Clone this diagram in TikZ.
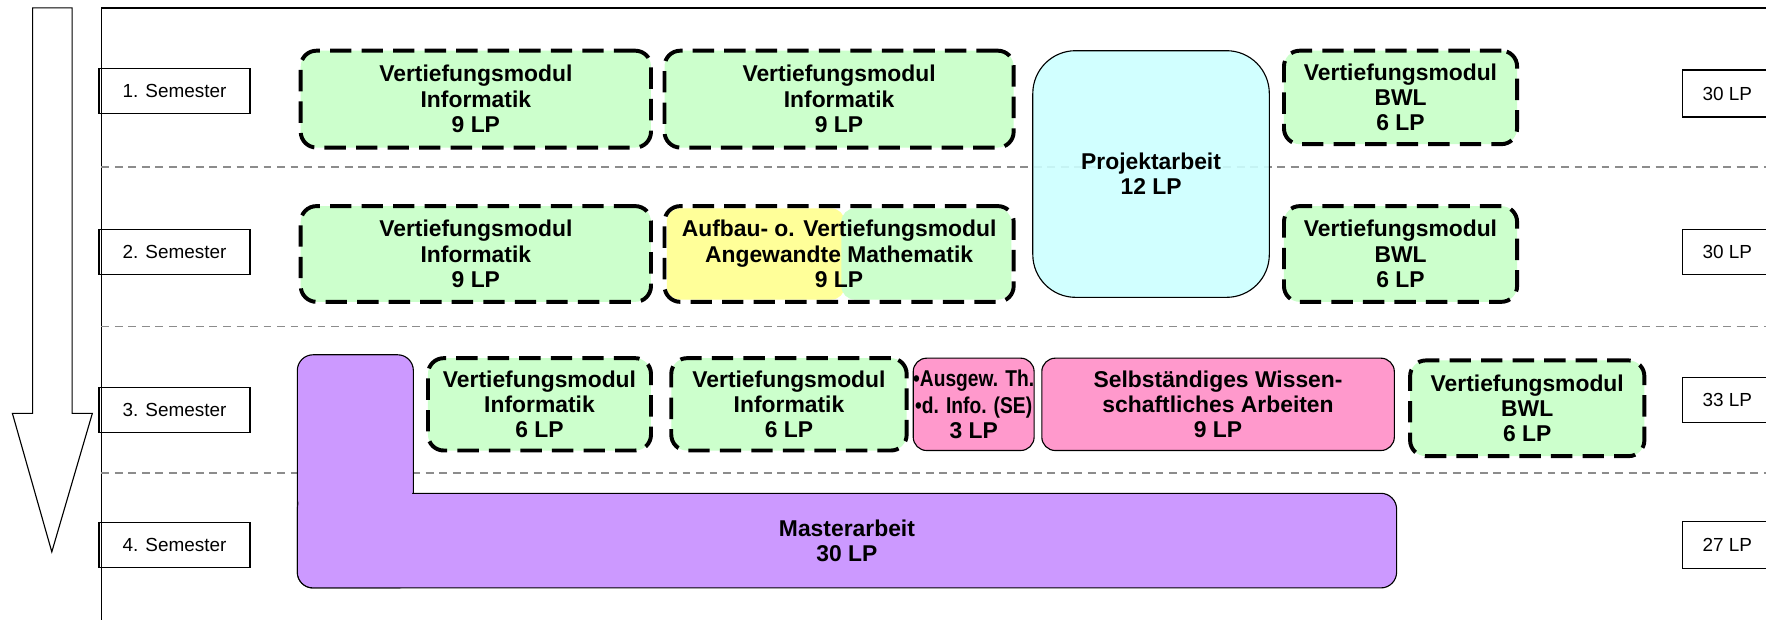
\documentclass[tikz,border=0pt]{standalone}
\usepackage{fontspec}
\setmainfont{Liberation Sans}
\definecolor{vgreen}{HTML}{CCFFCC}
\definecolor{vyellow}{HTML}{FFFF99}
\definecolor{vcyan}{HTML}{CCFFFF}
\definecolor{vpink}{HTML}{FF99CC}
\definecolor{vpurple}{HTML}{CC99FF}
\definecolor{sepgray}{HTML}{8C8C8C}
\begin{document}
\begin{tikzpicture}[x=1pt,y=-1pt,
  boldtxt/.style={font=\bfseries\fontsize{20.3}{22.5}\selectfont},
  vm/.style={draw=black, line width=3.5pt, dash pattern=on 19pt off 9pt,
    rounded corners=14pt, fill=vgreen, align=center, inner sep=0pt, boldtxt},
  solidbox/.style={draw=black, line width=1pt, rounded corners=12pt,
    align=center, inner sep=0pt, boldtxt},
  sem/.style={draw=black, line width=1.2pt, minimum height=40pt, inner sep=0pt,
    font=\fontsize{16.8}{19}\selectfont},
  sep/.style={draw=sepgray, line width=1.5pt, dash pattern=on 7pt off 5pt},
  mst/.style={draw=black, line width=1pt, rounded corners=14pt, fill=vpurple}
]
\fill[white] (0,0) rectangle (1568,550);
\useasboundingbox (0,0) rectangle (1568,550);
\clip (0,0) rectangle (1568,550);

% big arrow
\draw[line width=1pt, fill=white] (29,7) -- (64,7) -- (64,367) -- (82,367)
  -- (46,490) -- (11,367) -- (29,367) -- cycle;

% frame
\draw[line width=1.5pt] (90,560) -- (90,7) -- (1600,7);

% separators
\draw[sep] (90,148) -- (1568,148);
\draw[sep] (90,290) -- (1568,290);
\draw[sep] (90,420) -- (1568,420);

% semester labels
\node[sem, minimum width=134pt] (s1) at (155,81) {1. Semester};
\node[sem, minimum width=134pt] (s2) at (155,224) {2. Semester};
\node[sem, minimum width=134pt] (s3) at (155,364) {3. Semester};
\node[sem, minimum width=134pt] (s4) at (155,484) {4. Semester};

% LP labels
\node[sem, anchor=west, minimum width=80pt, minimum height=42pt] (lp1) at (1493,83) {30 LP};
\node[sem, anchor=west, minimum width=80pt] (lp2) at (1493,224) {30 LP};
\node[sem, anchor=west, minimum width=80pt] (lp3) at (1493,355) {33 LP};
\node[sem, anchor=west, minimum width=80pt, minimum height=42pt] (lp4) at (1493,484) {27 LP};

% row 1
\node[vm, minimum width=311pt, minimum height=86pt] (a1) at (422.5,88)
  {Vertiefungsmodul\\Informatik\\9 LP};
\node[vm, minimum width=310pt, minimum height=86pt] (a2) at (745,88)
  {Vertiefungsmodul\\Informatik\\9 LP};
\node[vm, minimum width=207pt, minimum height=83pt] (bwl1) at (1243.5,86.5)
  {Vertiefungsmodul\\BWL\\6 LP};

% row 2
\node[vm, minimum width=311pt, minimum height=85pt] (b1) at (422.5,225.5)
  {Vertiefungsmodul\\Informatik\\9 LP};
\fill[vyellow, rounded corners=12pt] (592,185) rectangle (750,266);
\fill[vgreen, rounded corners=12pt] (747,185) rectangle (898,266);
\node[vm, fill=none, minimum width=310pt, minimum height=85pt] (b2) at (745,225.5)
  {Aufbau- o. Vertiefungsmodul\\Angewandte Mathematik\\9 LP};
\node[vm, minimum width=207pt, minimum height=85pt] (bwl2) at (1243.5,225.5)
  {Vertiefungsmodul\\BWL\\6 LP};

% Projektarbeit
\node[solidbox, rounded corners=38pt, fill=vcyan, fill opacity=0.9, text opacity=1,
  minimum width=210pt, minimum height=219pt] (proj) at (1022,154.5)
  {Projektarbeit\\12 LP};

% Masterarbeit (L shape)
\draw[mst] (264,315) rectangle (367,522);
\draw[mst] (264,438) rectangle (1240,522);
\fill[vpurple, rounded corners=13pt] (265,316) rectangle (366,521);
\fill[vpurple, rounded corners=13pt] (265,439) rectangle (1239,521);
\node[boldtxt, align=center] (master) at (752,480) {Masterarbeit\\30 LP};

% row 3
\node[vm, minimum width=198pt, minimum height=82pt] (c1) at (479,359)
  {Vertiefungsmodul\\Informatik\\6 LP};
\node[vm, minimum width=209pt, minimum height=82pt] (c2) at (700.5,359)
  {Vertiefungsmodul\\Informatik\\6 LP};
\node[solidbox, fill=vpink, minimum width=103pt, minimum height=82pt] (se) at (864.5,359)
  {\scalebox{0.84}[1]{•Ausgew. Th.}\\[1pt]\scalebox{0.84}[1]{•d. Info. (SE)}\\3 LP};
\node[solidbox, fill=vpink, minimum width=313pt, minimum height=82pt] (swa) at (1081.5,359)
  {Selbständiges Wissen-\\schaftliches Arbeiten\\9 LP};
\node[vm, minimum width=208pt, minimum height=85pt] (bwl3) at (1356,362.5)
  {Vertiefungsmodul\\BWL\\6 LP};
\end{tikzpicture}
\end{document}
